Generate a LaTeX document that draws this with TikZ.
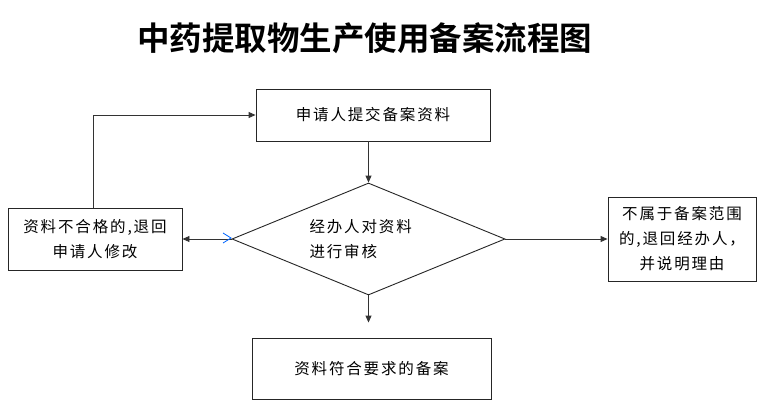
\documentclass[tikz,border=0pt]{standalone}
\usepackage{fontspec}
\newfontfamily\cjk[LetterSpace=12]{Noto Sans CJK SC}
\newfontfamily\cjkb{Noto Sans CJK SC Bold}
\usetikzlibrary{arrows.meta,shapes.geometric}
\begin{document}
\begin{tikzpicture}[x=1pt,y=-1pt,
  box/.style={draw=black!85,line width=0.9pt,inner sep=0pt,font=\cjk\fontsize{15.5}{25}\selectfont,align=center},
  conn/.style={draw=black!80,line width=0.9pt,-{Triangle[length=7pt,width=6pt]}}]
\useasboundingbox (0,0) rectangle (768,409);
\fill[white] (0,0) rectangle (768,409);
\node[font=\cjkb\fontsize{32.5}{34}\selectfont] (title) at (364.5,38) {中药提取物生产使用备案流程图};
\node[box,minimum width=234pt,minimum height=52pt] (apply) at (373,115) {申请人提交备案资料};
\node[draw=black!85,line width=0.9pt,diamond,aspect=2.44,minimum width=273pt,minimum height=112pt,inner sep=0pt] (review) at (368.5,239) {};
\node[font=\cjk\fontsize{15.5}{25}\selectfont,align=left,anchor=west] (rtext) at (306,239) {经办人对资料\\进行审核};
\node[box,minimum width=174pt,minimum height=62pt] (reject) at (95,239) {资料不合格的,退回\\申请人修改};
\node[box,minimum width=148pt,minimum height=84pt] (outside) at (682,239) {不属于备案范围\\的,退回经办人，\\并说明理由};
\node[box,minimum width=239pt,minimum height=61pt] (ok) at (371.5,368.5) {资料符合要求的备案};
\coordinate (corner) at (93,115);
\draw[conn] (apply.south -| review.north) -- (review.north);
\draw[conn] (review.west) -- (reject.east);
\draw[conn] (review.east) -- (outside.west);
\draw[conn,shorten >=15pt] (review.south) -- (review.south |- ok.north);
\draw[conn] (reject.north -| corner) -- (corner) -- (apply.west);
\draw[draw=blue!60!cyan,line width=0.8pt] (223,233) -- (231,238) -- (223,243);
\end{tikzpicture}
\end{document}
